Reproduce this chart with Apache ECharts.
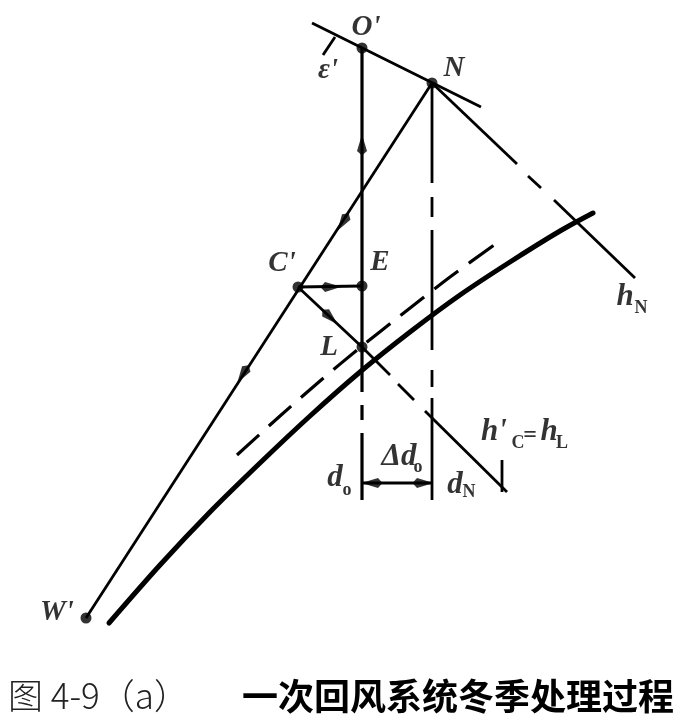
<!DOCTYPE html>
<html><head><meta charset="utf-8">
<script src="https://cdn.jsdelivr.net/npm/echarts@6/dist/echarts.min.js"></script>
<style>html,body{margin:0;padding:0;background:#fff}#c{width:688px;height:727px}</style>
</head><body><div id="c"></div>
<script>
// ---- state points of the winter process (diagram units) ----
const ptO = [362, 48];
const ptN = [432, 83];
const ptE = [362, 286];
const ptC = [298, 287];
const ptL = [362, 347];
const ptW = [86, 618];
const statePoints = [ptO, ptN, ptE, ptC, ptL, ptW];

// ---- process / reference lines (pieces separated by gaps = dashed look) ----
const epsLine = [[312, 23], [481, 107]];
const epsTick = [[335, 37], [323, 55]];
const mixLine = [ptN, ptW];
const heatLine = [ptC, ptE];
const vertO = [[ptO, [362, 392]], [[362, 405], [362, 420]], [[362, 433], [362, 500]]];
const vertN = [[ptN, [432, 183]], [[432, 197], [432, 217]], [[432, 230], [432, 350]], [[432, 370], [432, 387]], [[432, 398], [432, 500]]];
const hNsegs = [[ptN, [517, 164]], [[528, 176], [541, 188]], [[554, 200], [635, 278]]];
const hCsegs = [[ptC, ptL, [390, 375]], [[398, 384], [414, 400]], [[425, 411], [507, 492]]];
const endTick = [[502, 460], [502, 492]];
// saturation curve (phi = 100%)
const satCurve = [[109, 623], [160, 565], [210, 512], [260, 463], [310, 416], [360, 372], [410, 332], [460, 295], [510, 262], [560, 231], [593, 213]];
// dashed relative-humidity curve through L
const rhCurve = [[237, 455], [280, 416], [320, 381], [362, 346], [400, 316], [450, 277], [497, 243]];
const deltaD = [[363, 483], [432, 483]];

// ---- arrowheads: position + direction (from -> to) ----
const arrows = [
  { at: [362, 145], from: ptE, to: ptO },
  { at: [343, 222], from: ptN, to: ptW },
  { at: [243, 374], from: ptN, to: ptW },
  { at: [331, 287], from: ptC, to: ptE },
  { at: [330, 317], from: ptC, to: ptL },
  { at: [372, 483], from: deltaD[1], to: deltaD[0] },
  { at: [423, 483], from: deltaD[0], to: deltaD[1] }
];

// ---- text annotations ----
const ptLabels = [
  ["O'", 366, 28], ["ε'", 328, 71], ["N", 454, 69], ["C'", 282, 264],
  ["E", 380, 263], ["L", 329, 348], ["W'", 57, 613]
];
const bigLabels = [
  ["h", 625, 297], ["h'", 494, 432], ["h", 549, 432],
  ["d", 335, 478], ["Δd", 399, 457], ["d", 455, 485]
];
const eqLabels = [["=", 530, 436]];
const subLabels = [
  ["N", 641, 308], ["C", 518, 443], ["L", 562, 443],
  ["o", 347, 490], ["o", 418, 467], ["N", 469, 492]
];
const captionLeft = "图 4-9（a）";
const captionRight = "一次回风系统冬季处理过程";

const BLACK = '#000';
const series = [];
function seg(data, width, z) {
  series.push({ type: 'line', data: data, showSymbol: false, silent: true, z: z || 2,
    lineStyle: { color: BLACK, width: width, cap: 'butt' } });
}
seg(epsLine, 2.8); seg(epsTick, 2.8); seg(mixLine, 2.8); seg(heatLine, 3);
vertO.forEach(s => seg(s, 3.2)); vertN.forEach(s => seg(s, 2.8));
hNsegs.forEach(s => seg(s, 2.8)); hCsegs.forEach(s => seg(s, 2.8));
seg(endTick, 2.8); seg(deltaD, 2.8);
series.push({ type: 'line', data: satCurve, smooth: 0.3, showSymbol: false, silent: true, z: 3,
  lineStyle: { color: BLACK, width: 5, cap: 'round' } });
series.push({ type: 'line', data: rhCurve, smooth: 0.3, showSymbol: false, silent: true, z: 3,
  lineStyle: { color: BLACK, width: 3.2, type: [30, 13], cap: 'butt' } });

series.push({ type: 'scatter', silent: true, z: 5, symbol: 'circle', symbolSize: 11,
  itemStyle: { color: BLACK }, data: statePoints });

series.push({ type: 'scatter', silent: true, z: 5,
  symbol: 'path://M0,0L3,11L0,14L-3,11Z', symbolSize: [10, 21],
  itemStyle: { color: BLACK },
  data: arrows.map(a => {
    const dx = a.to[0] - a.from[0], dy = a.to[1] - a.from[1];
    const ang = Math.atan2(-dy, dx) * 180 / Math.PI;
    return { value: a.at, symbolRotate: ang - 90 };
  }) });

function textSeries(list, font) {
  series.push({ type: 'scatter', silent: true, z: 6, symbolSize: 0,
    data: list.map(l => ({ value: [l[1], l[2]], name: l[0] })),
    label: Object.assign({ show: true, position: 'inside', color: BLACK,
      formatter: p => p.name }, font) });
}
textSeries(ptLabels, { fontFamily: 'Liberation Serif', fontStyle: 'italic', fontWeight: 'bold', fontSize: 29 });
textSeries(bigLabels, { fontFamily: 'Liberation Serif', fontStyle: 'italic', fontWeight: 'bold', fontSize: 31 });
textSeries(eqLabels, { fontFamily: 'Liberation Serif', fontWeight: 'bold', fontSize: 24 });
textSeries(subLabels, { fontFamily: 'Liberation Serif', fontWeight: 'bold', fontSize: 18 });

const chart = echarts.init(document.getElementById('c'), null, { renderer: 'canvas' });
chart.setOption({
  animation: false,
  backgroundColor: '#fff',
  grid: { left: 0, right: 0, top: 0, bottom: 0 },
  xAxis: { type: 'value', min: 0, max: 688, show: false },
  yAxis: { type: 'value', min: 0, max: 727, inverse: true, show: false },
  graphic: [
    { type: 'text', left: 8, top: 678, style: { text: captionLeft, fill: '#222',
      font: '300 35px "Noto Sans CJK SC"' } },
    { type: 'text', left: 242, top: 678, style: { text: captionRight, fill: '#000',
      font: 'bold 36px "Noto Sans CJK SC"' } }
  ],
  series: series
});
</script></body></html>
